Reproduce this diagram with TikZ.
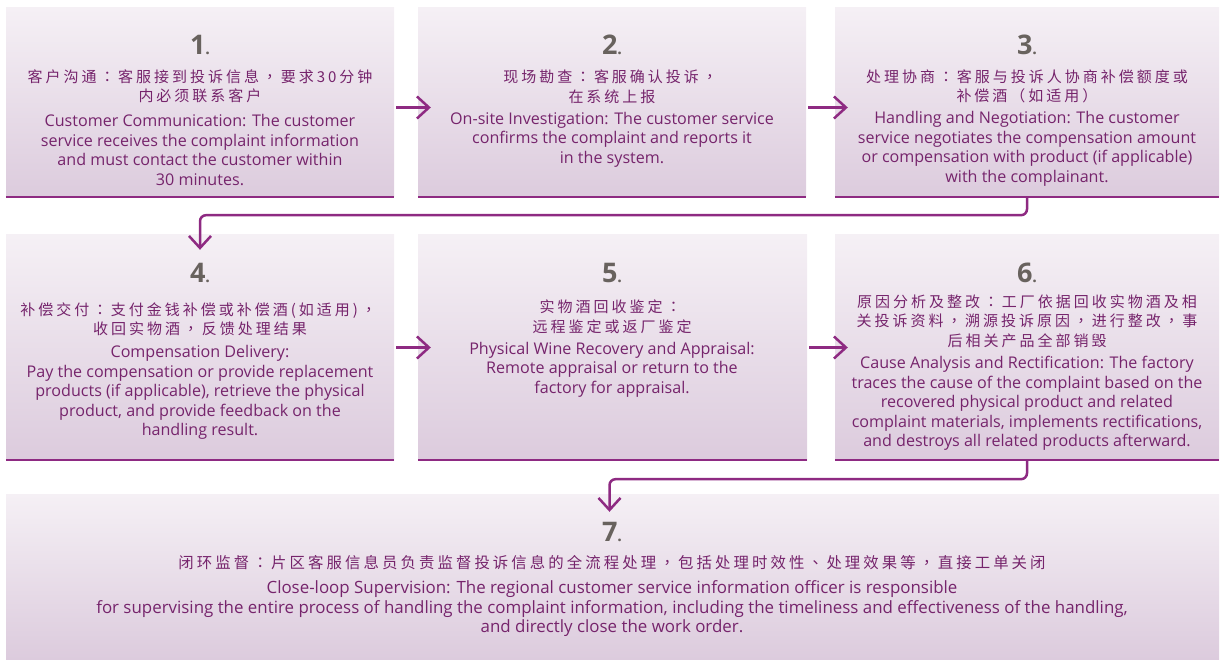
\documentclass[tikz,border=0pt]{standalone}
\usepackage{fontspec}
\setmainfont{Open Sans}
\newfontfamily\zhfont[LetterSpace=20]{Noto Sans CJK SC}
\newfontfamily\zhpunct[LetterSpace=20]{Noto Sans CJK TC}
\usetikzlibrary{arrows.meta,calc}
\definecolor{tp}{RGB}{118,36,108}
\definecolor{lp}{RGB}{142,42,130}
\definecolor{ng}{RGB}{104,98,94}
\definecolor{boxtop}{RGB}{245,240,245}
\definecolor{boxbot}{RGB}{220,203,221}
\tikzset{
  box/.style={rectangle, inner sep=0pt, top color=boxtop, bottom color=boxbot, draw=none},
  num/.style={text=ng, font=\fontsize{27}{30}\selectfont\bfseries, inner sep=0pt, anchor=base},
  zh/.style={text=tp, font=\zhfont\fontsize{15}{19.5}\selectfont, align=center, inner sep=0pt},
  zhwide/.style={text=tp, font=\zhfont\fontsize{15.4}{19.5}\selectfont, align=center, inner sep=0pt},
  en/.style={text=tp, font=\fontsize{16.1}{19.5}\selectfont, align=center, inner sep=0pt},
  enwide/.style={text=tp, font=\fontsize{16.9}{19.5}\selectfont, align=center, inner sep=0pt},
  baseline/.style={draw=lp, line width=2.5pt},
  conn/.style={draw=lp, line width=2.5pt, rounded corners=6pt, -{Straight Barb[length=12pt,width=22pt,line width=2.5pt]}},
}
\newcommand{\dt}{{\fontsize{16}{16}\selectfont.}}
\newcommand{\zp}[1]{\kern3.3pt{\zhpunct #1}\kern3.3pt}
\newcommand{\zc}{\zp{：}}
\newcommand{\zm}{\zp{，}}
\begin{document}
\begin{tikzpicture}[x=1pt,y=-1pt]
\useasboundingbox (0,0) rectangle (1220,660);
% boxes
\node[box, minimum width=388, minimum height=189] (b1) at (200,102.5) {};
\node[box, minimum width=388, minimum height=189] (b2) at (612,102.5) {};
\node[box, minimum width=384, minimum height=189] (b3) at (1027,102.5) {};
\node[box, minimum width=388, minimum height=225] (b4) at (200,347.5) {};
\node[box, minimum width=389, minimum height=225] (b5) at (612.5,347.5) {};
\node[box, minimum width=384, minimum height=225] (b6) at (1027,347.5) {};
\node[box, minimum width=1213, minimum height=166] (b7) at (612.5,577) {};
\foreach \b in {b1,b2,b3,b4,b5,b6}{
  \draw[baseline] (\b.south west) -- (\b.south east);
}
% box 1
\node[num] (n1) at (200,55) {1\dt};
\node[zh] (z1) at (200,86.5) {客户沟通\zc 客服接到投诉信息\zm 要求30分钟\\内必须联系客户};
\node[en] (e1) at (200,150) {Customer Communication: The customer\\service receives the complaint information\\and must contact the customer within\\30 minutes.};
% box 2
\node[num] (n2) at (612,55) {2\dt};
\node[zh] (z2) at (612,86.5) {现场勘查\zc 客服确认投诉\zm\\在系统上报};
\node[en] (e2) at (612,139.5) {On-site Investigation: The customer service\\confirms the complaint and reports it\\in the system.};
% box 3
\node[num] (n3) at (1027,55) {3\dt};
\node[zh] (z3) at (1027,86.5) {处理协商\zc 客服与投诉人协商补偿额度或\\补偿酒（如适用）};
\node[en] (e3) at (1027,149) {Handling and Negotiation: The customer\\service negotiates the compensation amount\\or compensation with product (if applicable)\\with the complainant.};
% box 4
\node[num] (n4) at (200,283) {4\dt};
\node[zh] (z4) at (200,319.5) {补偿交付\zc 支付金钱补偿或补偿酒(如适用)\zm\\收回实物酒\zm 反馈处理结果};
\node[en] (e4) at (200,392.5) {Compensation Delivery:\\Pay the compensation or provide replacement\\products (if applicable), retrieve the physical\\product, and provide feedback on the\\handling result.};
% box 5
\node[num] (n5) at (612,283) {5\dt};
\node[zh] (z5) at (612,317) {实物酒回收鉴定\zc\\远程鉴定或返厂鉴定};
\node[en] (e5) at (612,369.5) {Physical Wine Recovery and Appraisal:\\Remote appraisal or return to the\\factory for appraisal.};
% box 6
\node[num] (n6) at (1027,283) {6\dt};
\node[zh] (z6) at (1027,321) {原因分析及整改\zc 工厂依据回收实物酒及相\\关投诉资料\zm 溯源投诉原因\zm 进行整改\zm 事\\后相关产品全部销毁};
\node[en] (e6) at (1027,403.5) {Cause Analysis and Rectification: The factory\\traces the cause of the complaint based on the\\recovered physical product and related\\complaint materials, implements rectifications,\\and destroys all related products afterward.};
% box 7
\node[num] (n7) at (612,541) {7\dt};
\node[zhwide] (z7) at (612,563) {闭环监督\zc 片区客服信息员负责监督投诉信息的全流程处理\zm 包括处理时效性\zp{、}处理效果等\zm 直接工单关闭};
\node[enwide] (e7) at (612,609) {Close-loop Supervision: The regional customer service information officer is responsible\\for supervising the entire process of handling the complaint information, including the timeliness and effectiveness of the handling,\\and directly close the work order.};
% connectors
\draw[conn] ($(b1.east)+(2,5)$) -- ($(b2.west)+(13,5)$);
\draw[conn] ($(b2.east)+(2,5)$) -- ($(b3.west)+(13,5)$);
\draw[conn] ($(b4.east)+(2,0)$) -- ($(b5.west)+(13,0)$);
\draw[conn] ($(b5.east)+(2,0)$) -- ($(b6.west)+(13,0)$);
\draw[conn] (b3.south) -- ++(0,18) -| ($(b4.north)+(0,15)$);
\draw[conn] (b6.south) -- ++(0,19) -| ($(b7.north)+(-3,18)$);
\end{tikzpicture}
\end{document}
